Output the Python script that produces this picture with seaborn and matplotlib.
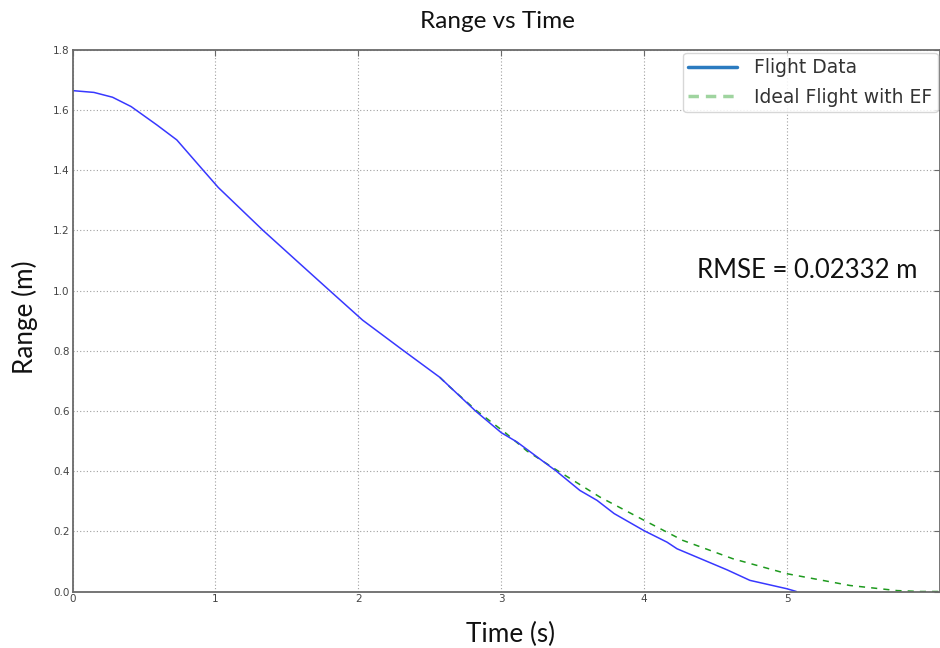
import matplotlib
matplotlib.use("Agg")
import matplotlib.pyplot as plt
from matplotlib.lines import Line2D
import seaborn as sns
import pandas as pd

# ---- data ----
flight_t = [0, 0.15, 0.28, 0.41, 0.59, 0.73, 0.915, 1.02, 1.334, 1.59, 1.80,
            2.03, 2.318, 2.57, 2.82, 3.00, 3.11, 3.30, 3.386, 3.55, 3.67, 3.79,
            4.00, 4.16, 4.23, 4.58, 4.74, 5.00, 5.065]
flight_r = [1.665, 1.659, 1.643, 1.612, 1.551, 1.501, 1.400, 1.343, 1.200, 1.090, 1.000,
            0.902, 0.800, 0.712, 0.600, 0.528, 0.497, 0.430, 0.400, 0.336, 0.303, 0.259,
            0.202, 0.164, 0.142, 0.072, 0.037, 0.009, 0.0]
ideal_t = [2.57, 2.64, 2.83, 3.03, 3.18, 3.39, 3.69, 4.01, 4.27, 4.62, 5.00, 5.44, 5.77, 5.93, 6.07]
ideal_r = [0.712, 0.680, 0.600, 0.527, 0.467, 0.403, 0.314, 0.234, 0.170, 0.109, 0.059,
           0.020, 0.003, 0.0, 0.0]
x_ticks = [0, 1, 2, 3, 4, 5]
y_ticks = [0.0, 0.2, 0.4, 0.6, 0.8, 1.0, 1.2, 1.4, 1.6, 1.8]
series_names = ["Flight Data", "Ideal Flight with EF"]
title = "Range vs Time"
x_label = "Time (s)"
y_label = "Range (m)"
note = "RMSE = 0.02332 m"

sns.set_theme(style="white")
plt.rcParams["font.family"] = ["DejaVu Sans"]

fig = plt.figure(figsize=(9.4, 6.48), dpi=100)
ax = fig.add_axes([72.5 / 940, (648 - 591.5) / 648, (940 - 72.5) / 940, (591.5 - 50) / 648])

df_f = pd.DataFrame({"t": flight_t, "r": flight_r})
df_i = pd.DataFrame({"t": ideal_t, "r": ideal_r})
sns.lineplot(data=df_i, x="t", y="r", ax=ax, color="#1e9a1e", lw=1.1,
             linestyle=(0, (4, 4)), sort=False)
sns.lineplot(data=df_f, x="t", y="r", ax=ax, color="#3838ff", lw=1.1, sort=False)

ax.set_xlim(0, 6.07)
ax.set_ylim(0, 1.8)
ax.set_xticks(x_ticks)
ax.set_yticks(y_ticks)
ax.set_xticklabels([str(v) for v in x_ticks])
ax.set_yticklabels([f"{v:.1f}" for v in y_ticks])
ax.set_xlabel("")
ax.set_ylabel("")
ax.grid(True, color="#a0a0a0", linestyle=(0, (1, 2)), lw=0.8)
for s in ax.spines.values():
    s.set_color("#6a6a6a")
    s.set_linewidth(1.3)
ax.tick_params(axis="both", direction="in", length=4, width=0.8, color="#6a6a6a",
               labelsize=7.5, labelcolor="#444444", top=True, right=True, pad=2)

handles = [Line2D([], [], color="#2b7bc0", lw=2.5),
           Line2D([], [], color="#9fd49f", lw=2.5, linestyle=(0, (3, 2)))]
leg = ax.legend(handles, series_names, loc="upper left", bbox_to_anchor=(0.7035, 0.995),
                fontsize=13.5, frameon=True, framealpha=0.85, edgecolor="#d0d0d0",
                handlelength=2.6, handletextpad=0.9, labelspacing=0.55, borderpad=0.3,
                borderaxespad=0.0)
leg.get_frame().set_linewidth(1.0)
for t in leg.get_texts():
    t.set_color("#333333")

fig.text(497 / 940, 1 - 22 / 648, title, ha="center", va="center", fontsize=17.5,
         family="Lato", color="#111111")
fig.text(511 / 940, 1 - 634 / 648, x_label, ha="center", va="center", fontsize=18.8,
         family="Lato", color="#111111")
fig.text(25 / 940, 1 - 317 / 648, y_label, ha="center", va="center", rotation=90,
         fontsize=18.8, family="Lato", color="#111111")
fig.text(807 / 940, 1 - 270 / 648, note, ha="center", va="center", fontsize=18.5,
         family="Lato", color="#111111")

fig.savefig("out.png", dpi=100)
